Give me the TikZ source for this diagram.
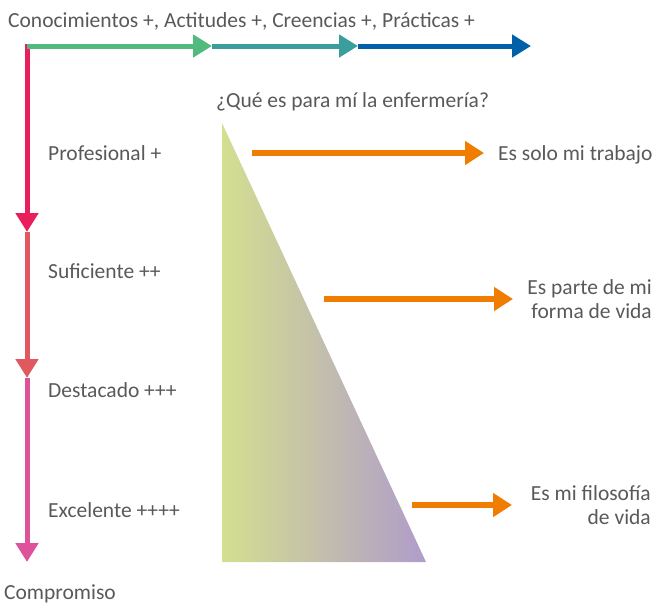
\documentclass[tikz,border=0pt]{standalone}
\usepackage{fontspec}
\setmainfont{Carlito}
\usetikzlibrary{arrows.meta}
\definecolor{txt}{HTML}{595959}
\definecolor{cgreen}{HTML}{52B97F}
\definecolor{cteal}{HTML}{3A9E9C}
\definecolor{cblue}{HTML}{0061A8}
\definecolor{cred1}{HTML}{E91E5A}
\definecolor{cred2}{HTML}{E0595E}
\definecolor{cpink}{HTML}{DD529B}
\definecolor{corange}{HTML}{F07D00}
\definecolor{triL}{HTML}{D4DF8F}
\definecolor{triR}{HTML}{B09CCB}
\tikzset{
  lbl/.style={text=txt, font=\fontsize{21.5}{24}\selectfont, inner sep=0pt},
  bigarrow/.style={line width=5pt, -{Triangle[length=19pt,width=22pt]}},
  orarrow/.style={line width=6pt, corange, -{Triangle[length=19pt,width=23pt]}}
}
\begin{document}
\begin{tikzpicture}[x=1pt,y=-1pt]
\useasboundingbox (0,0) rectangle (654,603);
% coordinates
\coordinate (vtop) at (27,43.5);
\coordinate (h0) at (27,46);
\coordinate (h1) at (212,46);
\coordinate (h2) at (358,46);
\coordinate (h3) at (531,46);
\coordinate (v1) at (27,232);
\coordinate (v2) at (27,378);
\coordinate (v3) at (27,562);
% vertical arrows
\draw[bigarrow, cred1] (vtop) -- (v1);
\draw[bigarrow, cred2] (v1) -- (v2);
\draw[bigarrow, cpink] (v2) -- (v3);
% horizontal arrows
\draw[bigarrow, cgreen] (h0) -- (h1);
\draw[bigarrow, cteal] (h1) -- (h2);
\draw[bigarrow, cblue] (h2) -- (h3);
% texts
\node[lbl, anchor=base west] (top) at (8,27) {Conocimientos +, Actitudes +, Creencias +, Prácticas +};
\node[lbl, anchor=base west] (q) at (216,107) {¿Qué es para mí la enfermería?};
\node[lbl, anchor=base west] (p1) at (48,160) {Profesional +};
\node[lbl, anchor=base west] (p2) at (48,278) {Suficiente ++};
\node[lbl, anchor=base west] (p3) at (48,397) {Destacado +++};
\node[lbl, anchor=base west] (p4) at (48,517) {Excelente ++++};
\node[lbl, anchor=base west] (comp) at (4,599) {Compromiso};
% triangle
\coordinate (tA) at (222,123);
\coordinate (tB) at (222,562);
\coordinate (tC) at (426,562);
\shade[left color=triL, right color=triR] (tA) -- (tB) -- (tC) -- cycle;
% orange arrows
\coordinate (o1s) at (252,153);
\coordinate (o1e) at (484,153);
\coordinate (o2s) at (324,299);
\coordinate (o2e) at (513,299);
\coordinate (o3s) at (412,505);
\coordinate (o3e) at (512,505);
\draw[orarrow] (o1s) -- (o1e);
\draw[orarrow] (o2s) -- (o2e);
\draw[orarrow] (o3s) -- (o3e);
\node[lbl, anchor=base west] (r1) at (498,160) {Es solo mi trabajo};
\node[lbl, anchor=base east, align=right] (r2) at (652,318) {Es parte de mi\\forma de vida};
\node[lbl, anchor=base east, align=right] (r3) at (651,524) {Es mi filosofía\\de vida};
\end{tikzpicture}
\end{document}
